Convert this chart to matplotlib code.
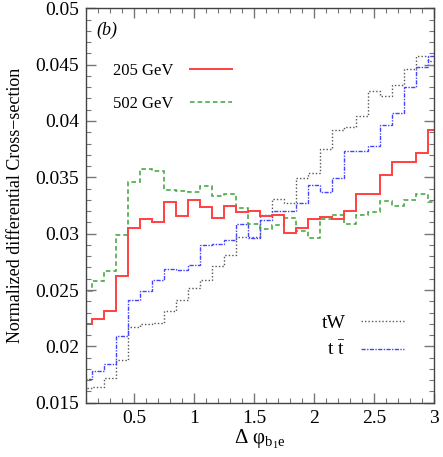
import numpy as np
import matplotlib
matplotlib.use("Agg")
import matplotlib.pyplot as plt
from matplotlib.lines import Line2D
from matplotlib.ticker import MultipleLocator, FuncFormatter

plt.rcParams['font.family'] = ['Liberation Serif', 'DejaVu Serif']
plt.rcParams['mathtext.fontset'] = 'custom'
plt.rcParams['mathtext.rm'] = 'Liberation Serif'
plt.rcParams['mathtext.it'] = 'Liberation Serif:italic'

# bin edges (bin centres at 0.1 ... 3.0)
edges = np.round(np.arange(0.05, 3.06, 0.1), 2)

sig_205 = [0.0220, 0.0224, 0.0231, 0.0262, 0.0305, 0.0313, 0.0310, 0.0328, 0.0316, 0.0330,
           0.0324, 0.0314, 0.0325, 0.0319, 0.0320, 0.0316, 0.0317, 0.0301, 0.0305, 0.0313,
           0.0315, 0.0313, 0.0320, 0.0335, 0.0335, 0.0352, 0.0364, 0.0364, 0.0372, 0.0392]
sig_502 = [0.0249, 0.0258, 0.0267, 0.0299, 0.0346, 0.0357, 0.0356, 0.0339, 0.0338, 0.0337,
           0.0342, 0.0333, 0.0335, 0.0323, 0.0309, 0.0304, 0.0308, 0.0314, 0.0302, 0.0296,
           0.0313, 0.0317, 0.0309, 0.0317, 0.0319, 0.0329, 0.0325, 0.0330, 0.0335, 0.0328]
bkg_tw = [0.0163, 0.0164, 0.0172, 0.0188, 0.0217, 0.0220, 0.0221, 0.0231, 0.0241, 0.0252,
          0.0259, 0.0271, 0.0281, 0.0297, 0.0297, 0.0317, 0.0331, 0.0327, 0.0349, 0.0354,
          0.0375, 0.0392, 0.0395, 0.0404, 0.0427, 0.0422, 0.0432, 0.0446, 0.0458, 0.0453]
bkg_tt = [0.0171, 0.0178, 0.0184, 0.0209, 0.0241, 0.0249, 0.0259, 0.0269, 0.0268, 0.0272,
          0.0290, 0.0291, 0.0294, 0.0309, 0.0296, 0.0312, 0.0320, 0.0320, 0.0327, 0.0343,
          0.0337, 0.0349, 0.0373, 0.0373, 0.0378, 0.0396, 0.0407, 0.0430, 0.0448, 0.0458]

fig = plt.figure(figsize=(4.43, 4.57), dpi=100)
ax = fig.add_axes([86 / 443, 1 - 402.7 / 457, 348 / 443, 394.4 / 457])

c_red, c_green, c_black, c_blue = '#ff4040', '#3aa33a', '#555555', '#4444ff'
ax.stairs(bkg_tw, edges, baseline=None, color=c_black, lw=1.0, ls=(0, (1, 1.5)))
ax.stairs(bkg_tt, edges, baseline=None, color=c_blue, lw=1.0, ls=(0, (3, 1, 1, 1)))
ax.stairs(sig_502, edges, baseline=None, color=c_green, lw=1.1, ls=(0, (3, 2)))
ax.stairs(sig_205, edges, baseline=None, color=c_red, lw=1.4)

ax.set_xlim(0.1, 3.0)
ax.set_ylim(0.015, 0.05)

fmt = FuncFormatter(lambda v, p: '%g' % round(v, 4))
ax.xaxis.set_major_locator(MultipleLocator(0.5))
ax.xaxis.set_minor_locator(MultipleLocator(0.1))
ax.yaxis.set_major_locator(MultipleLocator(0.005))
ax.yaxis.set_minor_locator(MultipleLocator(0.001))
ax.xaxis.set_major_formatter(fmt)
ax.yaxis.set_major_formatter(fmt)
ax.tick_params(which='both', direction='in', top=True, right=True, color='#777777',
               labelsize=14, pad=5)
ax.tick_params(which='major', length=7, width=1)
ax.tick_params(which='minor', length=3.5, width=0.8)
for s in ax.spines.values():
    s.set_color('#444444')
    s.set_linewidth(1.0)

ax.set_ylabel('Normalized differential Cross\u2212section', fontsize=13, labelpad=8)
ax.set_xlabel(r'$\mathrm{\Delta\ \varphi_{b_1 e}}$', fontsize=15, labelpad=1)

ax.text(0.03, 0.945, '(b)', transform=ax.transAxes, fontsize=13, style='italic',
        ha='left', va='center')

h1 = [Line2D([], [], color=c_red, lw=1.4),
      Line2D([], [], color=c_green, lw=1.1, ls=(0, (3, 2)))]
leg1 = ax.legend(h1, ['205 GeV', '502 GeV'], loc='upper left', bbox_to_anchor=(0.078, 0.862),
                 frameon=False, markerfirst=False, fontsize=12, handlelength=2.5,
                 handletextpad=1.0, labelspacing=1.05, borderpad=0, borderaxespad=0)
ax.add_artist(leg1)

h2 = [Line2D([], [], color=c_black, lw=1.0, ls=(0, (1, 1.5))),
      Line2D([], [], color=c_blue, lw=1.0, ls=(0, (3, 1, 1, 1)))]
ax.legend(h2, ['tW', r'$\mathrm{t\ \bar{t}}$'], loc='upper left', bbox_to_anchor=(0.677, 0.225),
          frameon=False, markerfirst=False, fontsize=14, handlelength=2.2,
          handletextpad=0.8, labelspacing=0.5, borderpad=0, borderaxespad=0)

fig.savefig('out.png', dpi=100)
